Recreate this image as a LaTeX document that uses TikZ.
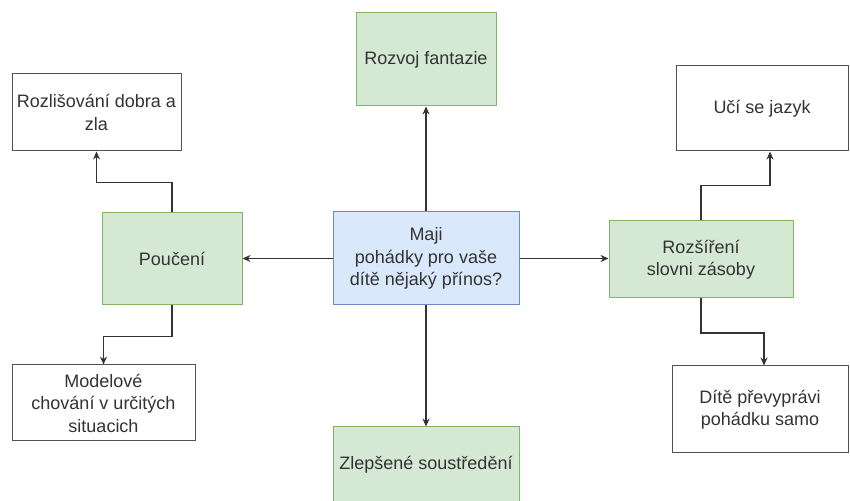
\documentclass[tikz,border=0pt]{standalone}
\usepackage{fontspec}
\setmainfont{Liberation Sans}
\usetikzlibrary{arrows.meta,calc}
\definecolor{gfill}{HTML}{D5E8D4}
\definecolor{gdraw}{HTML}{82B366}
\definecolor{bfill}{HTML}{DAE8FC}
\definecolor{bdraw}{HTML}{6C8EBF}
\definecolor{txt}{HTML}{333333}
\tikzset{
  x=1pt,y=1pt,
  base/.style={rectangle, inner sep=0pt, align=center, text=txt,
    font=\fontsize{18}{22.5}\selectfont, line width=1pt},
  whitebox/.style={base, draw=txt!85, fill=white},
  greenbox/.style={base, draw=gdraw, fill=gfill},
  bluebox/.style={base, draw=bdraw, fill=bfill},
  conn/.style={draw=txt, line width=1.2pt, -{Stealth[length=8pt,width=7pt]}}
}
\begin{document}
\begin{tikzpicture}
\useasboundingbox (0,0) rectangle (850,500);
\fill[white] (0,0) rectangle (850,500);
\node[bluebox, minimum width=186, minimum height=93] (main) at (426,241.5) {Maji\\pohádky pro vaše\\dítě nějaký přínos?};
\node[greenbox, minimum width=140, minimum height=93] (fant) at (426,440.5) {Rozvoj fantazie};
\node[greenbox, minimum width=186, minimum height=76] (zlep) at (426,35) {Zlepšené soustředění};
\node[greenbox, minimum width=140, minimum height=92] (pouc) at (172,241) {Poučení};
\node[greenbox, minimum width=184, minimum height=77] (rozs) at (701,240.5) {Rozšíření\\slovni zásoby};
\node[whitebox, minimum width=169, minimum height=77] (rozl) at (96.5,387.5) {Rozlišování dobra a\\zla};
\node[whitebox, minimum width=183, minimum height=76] (model) at (103.5,97) {Modelové\\chování v určitých\\situacich};
\node[whitebox, minimum width=172, minimum height=85] (uci) at (762,391.5) {Učí se jazyk};
\node[whitebox, minimum width=176, minimum height=87] (dite) at (760,90.5) {Dítě převyprávi\\pohádku samo};
\draw[conn] (main.north) -- (fant.south);
\draw[conn] (main.south) -- (zlep.north);
\draw[conn] (main.west) -- (main.west -| pouc.east);
\draw[conn] (main.east) -- (main.east -| rozs.west);
\draw[conn] (pouc.north) -- ++(0,30) -| (rozl.south);
\draw[conn] (pouc.south) -- ++(0,-31) -| (model.north);
\draw[conn] (rozs.north) -- ++(0,35) -| ([xshift=8]uci.south);
\draw[conn] (rozs.south) -- ++(0,-34.5) -| ([xshift=4]dite.north);
\end{tikzpicture}
\end{document}
